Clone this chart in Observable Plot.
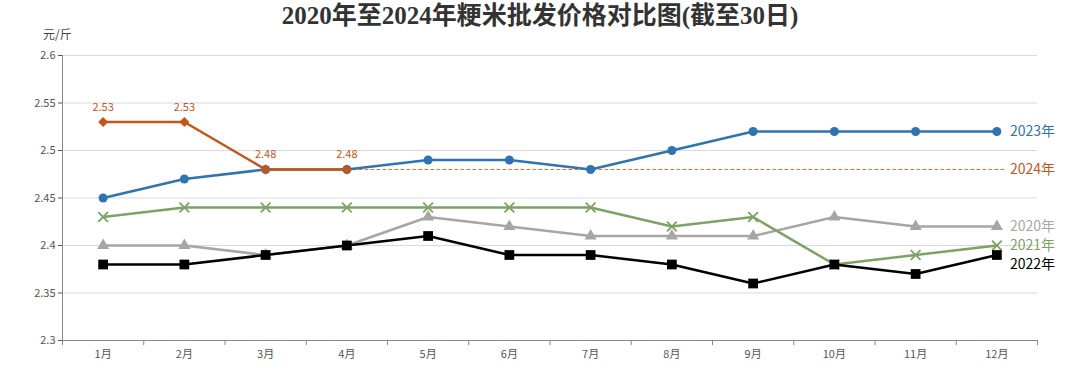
<!DOCTYPE html>
<html><head><meta charset="utf-8">
<script src="https://cdn.jsdelivr.net/npm/d3@7"></script>
<script src="https://cdn.jsdelivr.net/npm/@observablehq/plot@0.6"></script>
<style>
body{margin:0;background:#fff;}
#wrap{position:relative;width:1080px;height:378px;}
#title{position:absolute;z-index:2;left:0;top:1px;width:1080px;text-align:center;font-family:"Liberation Serif","Noto Sans CJK SC",serif;font-weight:bold;font-size:25px;color:#333;line-height:30px;}
#unit{position:absolute;z-index:2;left:43px;top:25px;font-family:"Noto Sans CJK SC",sans-serif;font-size:12px;color:#444;}
#chart{position:absolute;z-index:1;left:0;top:0;}
</style></head>
<body><div id="wrap"><div id="chart"></div><div id="title">2020年至2024年粳米批发价格对比图(截至30日)</div><div id="unit">元/斤</div></div>
<script>
const months = [1,2,3,4,5,6,7,8,9,10,11,12];
const monthLabels = ["1月","2月","3月","4月","5月","6月","7月","8月","9月","10月","11月","12月"];
const y2020 = [2.40,2.40,2.39,2.40,2.43,2.42,2.41,2.41,2.41,2.43,2.42,2.42];
const y2021 = [2.43,2.44,2.44,2.44,2.44,2.44,2.44,2.42,2.43,2.38,2.39,2.40];
const y2022 = [2.38,2.38,2.39,2.40,2.41,2.39,2.39,2.38,2.36,2.38,2.37,2.39];
const y2023 = [2.45,2.47,2.48,2.48,2.49,2.49,2.48,2.50,2.52,2.52,2.52,2.52];
const y2024 = [2.53,2.53,2.48,2.48];
const y2024Flat = 2.48;
const yTicks = [2.3,2.35,2.4,2.45,2.5,2.55,2.6];

const series = [
  {name:"2020年", vals:y2020, color:"#a6a6a6", symbol:"triangle", r:4.5, labelDy:0},
  {name:"2021年", vals:y2021, color:"#7da364", symbol:"times", r:4.5, labelDy:0},
  {name:"2022年", vals:y2022, color:"#000000", symbol:"square", r:5.5, labelDy:10},
  {name:"2023年", vals:y2023, color:"#2f74b0", symbol:"circle", r:4.5, labelDy:0},
  {name:"2024年", vals:y2024, color:"#c4561a", symbol:"diamond2", r:4.5, labelDy:0}
];
const toRows = s => s.vals.map((v,i)=>({m:months[i], v, s:s.name}));
const bounds = months.map(m=>m-0.5).concat([months[months.length-1]+0.5]);
const flatRows = [{m:y2024.length, v:y2024Flat},{m:months[months.length-1]+0.09, v:y2024Flat}];

const marks = [
  Plot.ruleY(yTicks.filter(t=>t>2.3), {stroke:"#d9d9d9", strokeWidth:1}),
  Plot.ruleY([2.3], {stroke:"#888", strokeWidth:1}),
  Plot.ruleX([0.5], {stroke:"#888", strokeWidth:1}),
  Plot.axisY({ticks:yTicks, tickFormat:d=>String(+d.toFixed(2)), tickSize:4, tickPadding:3, fontSize:11, color:"#555", label:null}),
  Plot.axisX({ticks:months, tickFormat:(d,i)=>monthLabels[months.indexOf(d)], tickSize:0, tickPadding:10, fontSize:11, color:"#555", label:null}),
  Plot.axisX({ticks:bounds, tickFormat:()=>"", tickSize:5, color:"#888", label:null}),
  Plot.line(flatRows, {x:"m", y:"v", stroke:"#e07430", strokeOpacity:1, strokeWidth:1, strokeDasharray:"3,3"})
];
for (const s of series) {
  const rows = toRows(s);
  marks.push(Plot.line(rows, {x:"m", y:"v", stroke:s.color, strokeWidth:2.5}));
  if (s.symbol === "times") {
    marks.push(Plot.dot(rows, {x:"m", y:"v", symbol:"times", r:s.r, stroke:s.color, strokeWidth:1.8}));
  } else {
    marks.push(Plot.dot(rows, {x:"m", y:"v", symbol:s.symbol, r:s.r, fill:s.color, stroke:null}));
  }
}
marks.push(Plot.text(toRows(series[4]), {x:"m", y:"v", text:d=>d.v.toFixed(2), dy:-15, fill:"#c4561a", fontSize:11, fontFamily:"Noto Sans CJK SC"}));
const endRows = series.map(s=>({m:months[months.length-1], v: s.name==="2024年" ? y2024Flat : s.vals[s.vals.length-1], s:s.name, c:s.color, dy:s.labelDy}));
for (const e of endRows) {
  marks.push(Plot.text([e], {x:"m", y:"v", text:"s", dx:13, dy:e.dy, textAnchor:"start", fill:e.c, fontSize:14, fontFamily:"Noto Sans CJK SC"}));
}

const chart = Plot.plot({
  width:1080, height:378,
  marginLeft:62, marginRight:43, marginTop:55, marginBottom:38,
  style:{fontFamily:"'Noto Sans CJK SC', sans-serif", background:"#fff"},
  x:{type:"linear", domain:[0.5,12.5]},
  y:{domain:[2.3,2.6]},
  marks
});
document.getElementById("chart").appendChild(chart);
</script></body></html>
